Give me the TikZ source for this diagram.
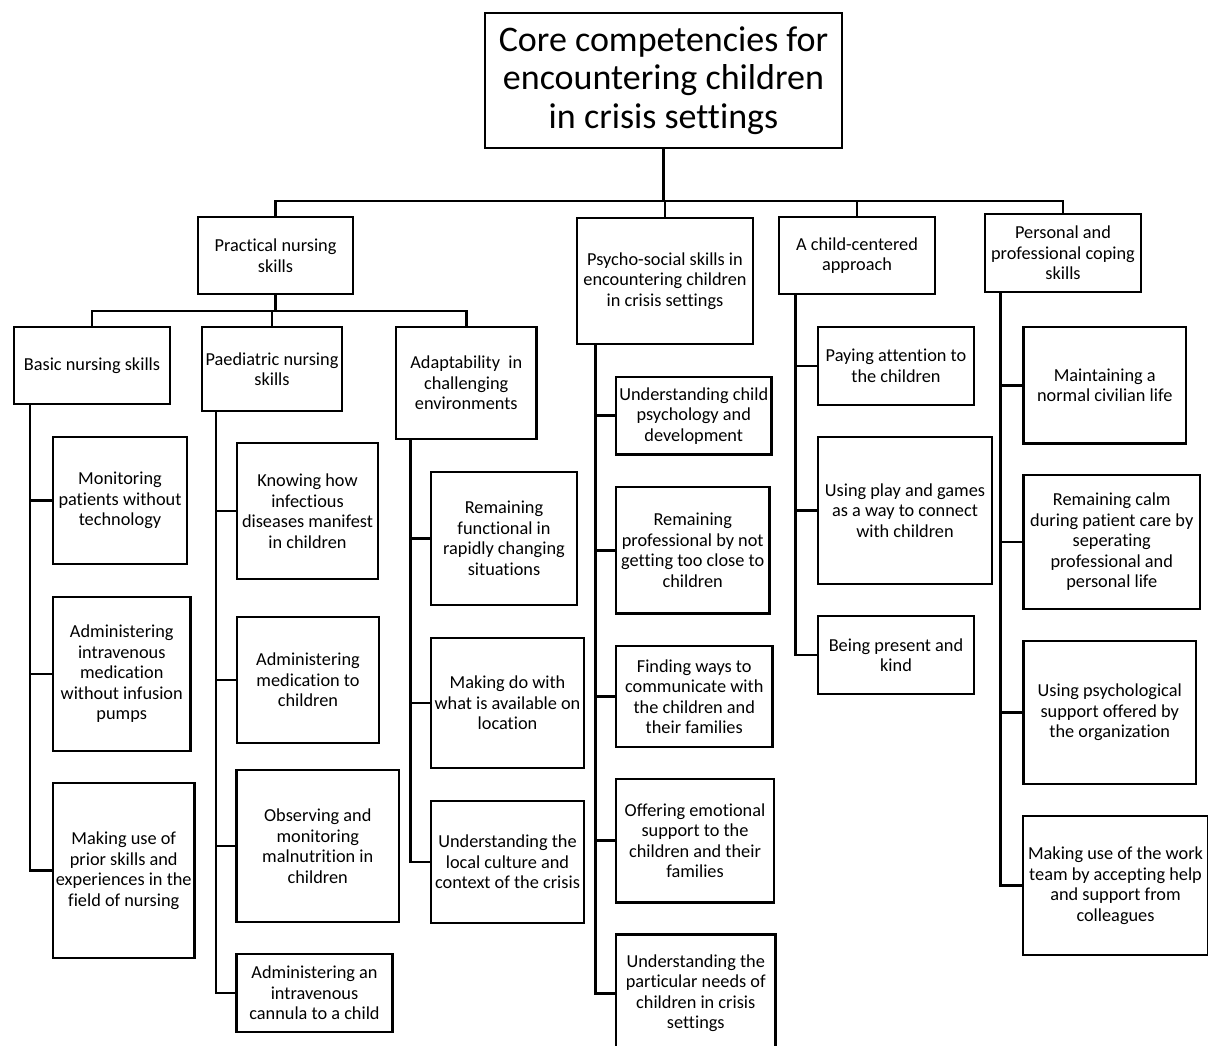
\documentclass[tikz,border=0pt]{standalone}
\usepackage{fontspec}
\setmainfont{Carlito}[Ligatures=NoCommon]
\tikzset{
  box/.style={draw=black, line width=2.6pt, inner sep=0pt, outer sep=0pt, align=center,
    font=\fontsize{18.3}{20.5}\selectfont},
  titlebox/.style={box, font=\fontsize{36}{38.3}\selectfont},
  conn/.style={draw=black, line width=2.6pt}
}
\newcommand{\bx}[7][box]{\node[#1, minimum width={#5-#3}, minimum height={#6-#4}] (#2) at ({(#3+#5)/2},{(#4+#6)/2}) {#7};}
\begin{document}
\begin{tikzpicture}[x=1pt,y=-1pt]
\useasboundingbox (0,0) rectangle (1208,1046);
\fill[white] (0,0) rectangle (1208,1046);
% top levels
\bx[titlebox]{title}{485}{13}{842}{148}{Core competencies for\\encountering children\\in crisis settings}
\bx{prac}{198}{217}{353}{294}{Practical nursing\\skills}
\bx{psy}{577}{218}{753}{344}{Psycho-social skills in\\encountering children\\in crisis settings}
\bx{child}{779}{217}{935}{294}{A child-centered\\approach}
\bx{pers}{985}{214}{1141}{292}{Personal and\\professional coping\\skills}
\bx{basic}{14}{327}{170}{404}{Basic nursing skills}
\bx{paed}{202}{327}{342}{411}{Paediatric nursing\\skills}
\bx{adapt}{396}{327}{536.5}{439}{Adaptability~~in\\challenging\\environments}
% basic children
\bx{mon}{53}{437}{187}{564}{Monitoring\\patients without\\technology}
\bx{ivmed}{53}{597}{190.5}{751}{Administering\\intravenous\\medication\\without infusion\\pumps}
\bx{prior}{53}{783}{194.5}{958}{Making use of\\prior skills and\\experiences in the\\field of nursing}
% paediatric children
\bx{know}{237}{443}{378}{579}{Knowing how\\infectious\\diseases manifest\\in children}
\bx{medch}{237}{617}{379}{743}{Administering\\medication to\\children}
\bx{obs}{236.5}{770}{399}{922}{Observing and\\monitoring\\malnutrition in\\children}
\bx{cann}{236.5}{954}{392.5}{1032}{Administering an\\intravenous\\cannula to a child}
% adaptability children
\bx{func}{431}{472}{577}{605}{Remaining\\functional in\\rapidly changing\\situations}
\bx{makedo}{431}{638}{584}{768}{Making do with\\what is available on\\location}
\bx{cult}{431}{801}{584}{923}{Understanding the\\local culture and\\context of the crisis}
% psycho-social children
\bx{uchild}{616}{377}{771.5}{454.5}{Understanding child\\psychology and\\development}
\bx{prof}{616}{487}{769.5}{613.5}{Remaining\\professional by not\\getting too close to\\children}
\bx{comm}{616}{646}{772.5}{747}{Finding ways to\\communicate with\\the children and\\their families}
\bx{emot}{616}{779}{774}{902.5}{Offering emotional\\support to the\\children and their\\families}
\bx{needs}{616}{934.5}{775.5}{1052}{Understanding the\\particular needs of\\children in crisis\\settings}
% child-centered children
\bx{pay}{818}{327}{974}{405}{Paying attention to\\the children}
\bx{play}{818}{437}{992}{584}{Using play and games\\as a way to connect\\with children}
\bx{kind}{818}{616}{974}{694}{Being present and\\kind}
% personal children
\bx{maint}{1023.5}{327}{1186}{443.5}{Maintaining a\\normal civilian life}
\bx{calm}{1023.5}{475}{1200}{609}{Remaining calm\\during patient care by\\seperating\\professional and\\personal life}
\bx{psysup}{1023.5}{641}{1196}{784}{Using psychological\\support offered by\\the organization}
\bx{team}{1023}{816}{1208}{955}{Making use of the work\\team by accepting help\\and support from\\colleagues}
% buses
\coordinate (bus) at (0,201);
\coordinate (bus2) at (0,311);
\draw[conn] (title.south) -- (title.south |- bus);
\draw[conn] (prac.north) -- (prac.north |- bus) -| (pers.north);
\draw[conn] (psy.north) -- (psy.north |- bus);
\draw[conn] (child.north) -- (child.north |- bus);
\draw[conn] (prac.south) -- (prac.south |- bus2);
\draw[conn] (basic.north) -- (basic.north |- bus2) -| (adapt.north);
\draw[conn] (paed.north) -- (paed.north |- bus2);
% spines
\coordinate (sb) at ([xshift=16]basic.south west);
\coordinate (sp) at ([xshift=14]paed.south west);
\coordinate (sa) at ([xshift=14.5]adapt.south west);
\coordinate (ss) at ([xshift=18.6]psy.south west);
\coordinate (sc) at ([xshift=16.5]child.south west);
\coordinate (so) at ([xshift=15.2]pers.south west);
\foreach \c in {mon,ivmed,prior} \draw[conn] (sb) |- (\c.west);
\foreach \c in {know,medch,obs,cann} \draw[conn] (sp) |- (\c.west);
\foreach \c in {func,makedo,cult} \draw[conn] (sa) |- (\c.west);
\foreach \c in {uchild,prof,comm,emot,needs} \draw[conn] (ss) |- (\c.west);
\foreach \c in {pay,play,kind} \draw[conn] (sc) |- (\c.west);
\foreach \c in {maint,calm,psysup,team} \draw[conn] (so) |- (\c.west);
\end{tikzpicture}
\end{document}
